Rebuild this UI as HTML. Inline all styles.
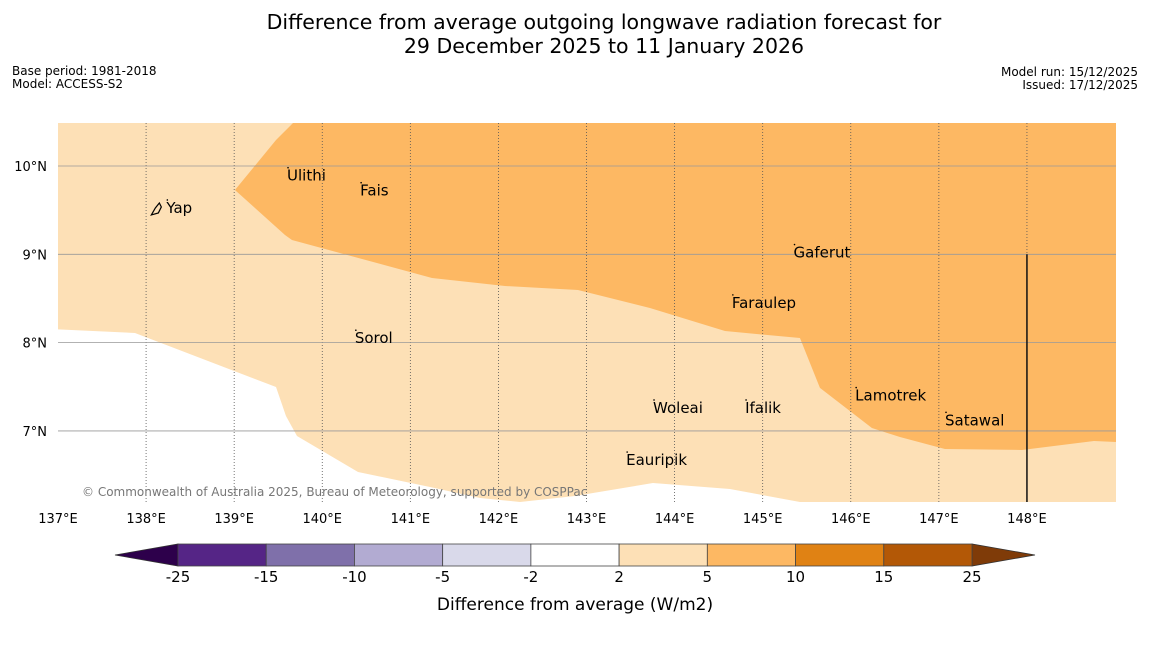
<!DOCTYPE html>
<html><head><meta charset="utf-8"><style>
body{margin:0;background:#fff;font-family:"DejaVu Sans","Liberation Sans",sans-serif;}
</style></head><body>
<svg id="s" width="1150" height="644" xmlns="http://www.w3.org/2000/svg" style="font-family:'DejaVu Sans','Liberation Sans',sans-serif">
<text x="604" y="29" font-size="20.5" text-anchor="middle">Difference from average outgoing longwave radiation forecast for</text>
<text x="604" y="53" font-size="20.5" text-anchor="middle">29 December 2025 to 11 January 2026</text>
<text x="12" y="75" font-size="12">Base period: 1981-2018</text>
<text x="12" y="88" font-size="12">Model: ACCESS-S2</text>
<text x="1138" y="76" font-size="12" text-anchor="end">Model run: 15/12/2025</text>
<text x="1138" y="89" font-size="12" text-anchor="end">Issued: 17/12/2025</text>
<g id="map"></g>
<g id="cb"></g>
<text x="575" y="610" font-size="17" text-anchor="middle">Difference from average (W/m2)</text>
</svg>
<script>
const lonTicks=[137,138,139,140,141,142,143,144,145,146,147,148];
const latTicks=[7,8,9,10];
const orangeLon=[139.668,139.475,139.009,139.577,139.656,141.246,142.074,142.903,143.720,144.572,145.423,145.650,146.240,146.558,147.069,147.943,148.761,149.011,149.011];
const orangeLat=[10.487,10.294,9.728,9.219,9.162,8.732,8.641,8.596,8.392,8.131,8.052,7.487,7.033,6.931,6.795,6.784,6.886,6.874,10.487];
const white1Lon=[137,137.874,139.475,139.588,139.713,140.406,141.223,141.791,142.245,137];
const white1Lat=[8.15,8.109,7.497,7.169,6.942,6.535,6.365,6.240,6.195,6.195];
const white2Lon=[142.245,142.869,143.754,144.628,145.423];
const white2Lat=[6.195,6.263,6.410,6.342,6.195];
const places=["Yap","Ulithi","Fais","Gaferut","Faraulep","Sorol","Lamotrek","Woleai","Ifalik","Satawal","Eauripik"];
const placeLon=[138.23,139.60,140.43,145.35,144.65,140.37,146.05,143.755,144.80,147.07,143.45];
const placeLat=[9.525,9.89,9.72,9.02,8.45,8.05,7.40,7.26,7.26,7.12,6.67];
const cbBounds=[-25,-15,-10,-5,-2,2,5,10,15,25];
const cbColors=["#552586","#7f70aa","#b2abd2","#d9d9ea","#ffffff","#fde0b6","#fdb863","#e08214","#b35806"];
const NS='http://www.w3.org/2000/svg';
const x0=58,x1=1116,y0=123,y1=502,lonMin=137,lonMax=149.011,latMin=6.195,latMax=10.487;
const X=l=>x0+(l-lonMin)/(lonMax-lonMin)*(x1-x0);
const Y=l=>y1-(l-latMin)/(latMax-latMin)*(y1-y0);
const map=document.getElementById('map');
function mk(t,a,p){const e=document.createElementNS(NS,t);for(const k in a)e.setAttribute(k,a[k]);(p||map).appendChild(e);return e;}
let r=mk('rect',{x:x0,y:y0,width:x1-x0,height:y1-y0,fill:'#fde0b6'});


function poly(lo,la,fill,name){const e=mk('polygon',{points:lo.map((v,i)=>X(v)+','+Y(la[i])).join(' '),fill:fill});

}
poly(white1Lon,white1Lat,'#ffffff','region-neutral-west');
poly(white2Lon,white2Lat,'#ffffff','region-neutral-south');
poly(orangeLon,orangeLat,'#fdb863','region-5-to-10');
lonTicks.forEach(l=>{const x=X(l);
if(l>137){const g=mk('line',{x1:x,x2:x,y1:y0,y2:y1,stroke:'#555','stroke-width':0.8,'stroke-dasharray':'1,2'});

}
const t=mk('text',{x:x,y:523,'font-size':13,'text-anchor':'middle'});t.textContent=l+'°E';

});
latTicks.forEach(l=>{const y=Y(l);
const g=mk('line',{x1:x0,x2:x1,y1:y,y2:y,stroke:'#999','stroke-width':0.8});


const t=mk('text',{x:47,y:y+5,'font-size':13,'text-anchor':'end'});t.textContent=l+'°N';

});
const vl=mk('line',{x1:X(148),x2:X(148),y1:Y(9),y2:y1,stroke:'#111','stroke-width':1.5});


places.forEach((p,i)=>{const x=X(placeLon[i]),y=Y(placeLat[i]);
const d=mk('circle',{cx:x+1,cy:y-8,r:0.8,fill:'#000'});


const t=mk('text',{x:x,y:y+5,'font-size':15});t.textContent=p;

});
const yap=mk('path',{d:`M${X(138.23)-15} ${Y(9.525)+7} l4 -7 l4 -5 l2 4 l-3 6 z`,fill:'none',stroke:'#000','stroke-width':1.2});


const cp=mk('text',{x:82,y:496,'font-size':12,fill:'#777'});cp.textContent='© Commonwealth of Australia 2025, Bureau of Meteorology, supported by COSPPac';


const cb=document.getElementById('cb');
const cx0=178,cx1=972,cy0=544,cy1=566;
const CX=i=>cx0+i*(cx1-cx0)/(cbBounds.length-1);
const lt=mk('polygon',{points:`115,555 ${cx0},${cy0} ${cx0},${cy1}`,fill:'#2d004b',stroke:'#333','stroke-width':0.8},cb);


const rt=mk('polygon',{points:`1035,555 ${cx1},${cy0} ${cx1},${cy1}`,fill:'#7f3b08',stroke:'#333','stroke-width':0.8},cb);


cbColors.forEach((c,i)=>{const e=mk('rect',{x:CX(i),y:cy0,width:CX(i+1)-CX(i),height:cy1-cy0,fill:c,stroke:'#444','stroke-width':0.8},cb);

});
cbBounds.forEach((b,i)=>{const t=mk('text',{x:CX(i),y:582,'font-size':15,'text-anchor':'middle'},cb);t.textContent=b;

});
</script>
</body></html>
